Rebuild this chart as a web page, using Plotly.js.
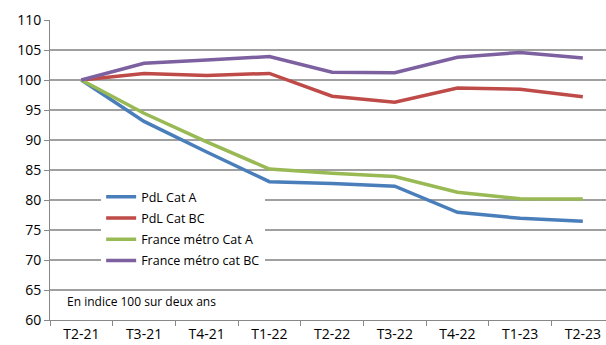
<!DOCTYPE html>
<html><head><meta charset="utf-8">
<script src="https://cdn.plot.ly/plotly-3.0.1.min.js"></script>
<style>html,body{margin:0;padding:0;background:#fff}#chart{width:606px;height:345px}</style>
</head><body><div id="chart"></div>
<script>
const categories = ["T2-21","T3-21","T4-21","T1-22","T2-22","T3-22","T4-22","T1-23","T2-23"];
const pdlCatA = [100, 93.1, 88.0, 83.05, 82.75, 82.3, 77.95, 76.95, 76.45];
const pdlCatBC = [100, 101.1, 100.75, 101.1, 97.3, 96.3, 98.65, 98.45, 97.2];
const franceCatA = [100, 94.45, 89.7, 85.15, 84.45, 83.9, 81.3, 80.2, 80.15];
const franceCatBC = [100, 102.8, 103.35, 103.9, 101.3, 101.2, 103.8, 104.6, 103.65];
const seriesNames = ["PdL Cat A","PdL Cat BC","France métro Cat A","France métro cat BC"];
const seriesColors = ["#4A7EBB","#BE4B48","#98B954","#7D60A0"];
const seriesData = [pdlCatA, pdlCatBC, franceCatA, franceCatBC];

const traces = seriesData.map((d,i)=>({
  x: categories, y: d, name: seriesNames[i], type:'scatter', mode:'lines',
  legendgroup: 'g'+i,
  line:{color:seriesColors[i], width:3.5}
}));

const font = "Open Sans, sans-serif";
const layout = {
  width:606, height:345,
  margin:{l:50, r:0, t:20, b:25},
  paper_bgcolor:'#fff', plot_bgcolor:'#fff',
  showlegend:true,
  legend:{x:0.092, y:0.46, xanchor:'left', yanchor:'top', bgcolor:'#fff', borderwidth:0,
    font:{family:font, size:12.5, color:'#000'}, tracegroupgap:2},
  xaxis:{type:'category', range:[-0.5, 8.37], tickson:'boundaries', ticks:'outside', ticklen:5,
    tickcolor:'#888', showline:true, linecolor:'#888', linewidth:1, showgrid:false,
    tickfont:{family:font, size:14, color:'#000'}, ticklabelstandoff:1, fixedrange:true},
  yaxis:{range:[60,110], dtick:5, ticks:'outside', ticklen:5, tickcolor:'#888',
    showline:true, linecolor:'#888', linewidth:1, showgrid:true, gridcolor:'#a0a0a0', gridwidth:1.2,
    zeroline:false, tickfont:{family:font, size:14, color:'#000'}, fixedrange:true},
  annotations:[{text:"En indice 100 sur deux ans", xref:'paper', yref:'paper', x:(65-50)/556, y:(320-301)/300,
    xanchor:'left', yanchor:'middle', showarrow:false, font:{family:font, size:12, color:'#000'}}]
};
Plotly.newPlot('chart', traces, layout, {displayModeBar:false, staticPlot:true});
</script></body></html>
